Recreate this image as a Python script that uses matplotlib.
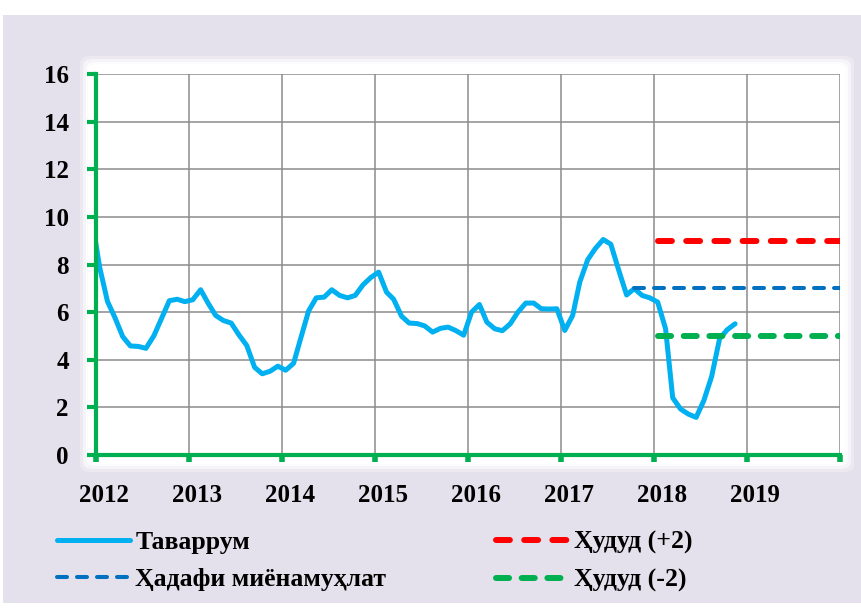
import matplotlib
matplotlib.use("Agg")
import matplotlib.pyplot as plt
import matplotlib.transforms as mtransforms
from matplotlib.patches import Rectangle, FancyBboxPatch
import pandas as pd

# ---------------- data ----------------
infl_start = "2011-12"
inflation = [10.0,
             7.9, 6.45, 5.78, 4.97, 4.58, 4.56, 4.48, 5.0, 5.75, 6.48, 6.54, 6.44,
             6.52, 6.94, 6.4, 5.86, 5.65, 5.54, 5.05, 4.6, 3.68, 3.41, 3.52, 3.73,
             3.56, 3.85, 4.9, 6.05, 6.6, 6.63, 6.94, 6.7, 6.6, 6.7, 7.15, 7.45,
             7.68, 6.84, 6.54, 5.83, 5.54, 5.52, 5.42, 5.16, 5.32, 5.37, 5.22, 5.03,
             6.0, 6.32, 5.58, 5.3, 5.22, 5.51, 6.0, 6.38, 6.38, 6.14, 6.13, 6.14,
             5.23, 5.86, 7.26, 8.2, 8.67, 9.05, 8.85, 7.76, 6.72, 6.99, 6.7, 6.6,
             6.42, 5.3, 2.4, 1.93, 1.72, 1.58, 2.28, 3.3, 4.88, 5.26, 5.51]

target_start = "2017-10"
target_value = 7.0
band_start = "2018-01"
band_upper = 9.0
band_lower = 5.0
band_end = "2020-01"

years = [2012, 2013, 2014, 2015, 2016, 2017, 2018, 2019, 2020]
year_labels = ["2012", "2013", "2014", "2015", "2016", "2017", "2018", "2019", ""]
y_ticks = [0, 2, 4, 6, 8, 10, 12, 14, 16]

labels = ["Таваррум", "Ҳадафи миёнамуҳлат", "Ҳудуд (+2)", "Ҳудуд (-2)"]

# ---------------- helpers ----------------
def monthly(start, n=None, end=None):
    if end is not None:
        idx = pd.date_range(start, end, freq="MS")
    else:
        idx = pd.date_range(start, periods=n, freq="MS")
    return idx + pd.Timedelta(days=14)

x_infl = monthly(infl_start, n=len(inflation))
x_target = monthly(target_start, end=band_end)
x_band = monthly(band_start, end=band_end)

# ---------------- style ----------------
plt.rcParams["lines.scale_dashes"] = False
FONT = ["Liberation Serif", "DejaVu Serif"]
plt.rcParams["font.family"] = FONT

W, H = 862, 608
fig = plt.figure(figsize=(W / 100, H / 100), dpi=100, facecolor="white")

def fx(px):
    return px / W

def fy(py):
    return 1 - py / H

# lavender background panel
fig.patches.append(Rectangle((fx(3), fy(603)), fx(862) - fx(3), fy(15) - fy(603),
                             transform=fig.transFigure, facecolor="#E4E0EC",
                             edgecolor="none", zorder=0))
# soft white plot panel
for grow, alpha in [(8, 0.3), (5, 0.5), (2, 0.75), (0, 1.0)]:
    x0, x1, y0, y1 = 88 - grow, 846 + grow, 64 - grow, 464 + grow
    fig.patches.append(FancyBboxPatch((fx(x0), fy(y1)), fx(x1) - fx(x0), fy(y0) - fy(y1),
                                      boxstyle="round,pad=0,rounding_size=0.012",
                                      transform=fig.transFigure, facecolor="white",
                                      edgecolor="none", alpha=alpha, zorder=0.5))

ax = fig.add_axes([fx(96), fy(455), fx(840) - fx(96), fy(74) - fy(455)])
ax.set_zorder(2)
ax.set_facecolor("white")

ax.plot(x_infl, inflation, color="#00B0F0", lw=3.6, solid_capstyle="round",
        solid_joinstyle="round", zorder=3, label=labels[0])
ax.plot(x_target, [target_value] * len(x_target), color="#0070C0", lw=2.9,
        dashes=(7.2, 7.2), dash_capstyle="round", zorder=4, label=labels[1])
ax.plot(x_band, [band_upper] * len(x_band), color="#FF0000", lw=4.3,
        dashes=(10.0, 10.3), dash_capstyle="round", zorder=4, label=labels[2])
ax.plot(x_band, [band_lower] * len(x_band), color="#00B050", lw=4.3,
        dashes=(9.4, 9.1), dash_capstyle="round", zorder=4, label=labels[3])

ax.set_xlim(pd.Timestamp("2012-01-01"), pd.Timestamp("2020-01-01"))
ax.set_ylim(0, 16)
xt = [pd.Timestamp(f"{y}-01-01") for y in years]
ax.set_xticks(xt)
ax.set_xticklabels(year_labels)
ax.set_yticks(y_ticks)
ax.set_yticklabels([str(v) for v in y_ticks])

ax.grid(True, color="#8C8C8C", lw=1.1, zorder=1)
ax.set_axisbelow(True)
for s in ["top", "right"]:
    ax.spines[s].set_visible(False)
for s in ["left", "bottom"]:
    ax.spines[s].set_color("#00B050")
    ax.spines[s].set_linewidth(3.0)
    ax.spines[s].set_zorder(5)

ax.tick_params(axis="y", direction="out", length=6.5, width=3.0, color="#00B050",
               pad=13, labelsize=18)
ax.tick_params(axis="x", direction="out", length=5, width=4.0, color="#00B050",
               pad=16, labelsize=18)
for lab in ax.get_xticklabels() + ax.get_yticklabels():
    lab.set_fontweight("bold")
    lab.set_family(FONT)
offset = mtransforms.ScaledTranslation(8 / 100, 0, fig.dpi_scale_trans)
for lab in ax.get_xticklabels():
    lab.set_transform(lab.get_transform() + offset)

# legend as two columns
h = ax.get_lines()
leg_kw = dict(frameon=False, handlelength=2.85, handletextpad=0.2,
              labelspacing=0.55, borderpad=0, borderaxespad=0,
              prop={"family": FONT, "weight": "bold", "size": 18.5})
fig.legend([h[0], h[1]], labels[:2], loc="upper left",
           bbox_to_anchor=(fx(57), fy(531)), **leg_kw)
fig.legend([h[2], h[3]], labels[2:], loc="upper left",
           bbox_to_anchor=(fx(496), fy(531)), **leg_kw)

fig.savefig("out.png", dpi=100, facecolor="white")
